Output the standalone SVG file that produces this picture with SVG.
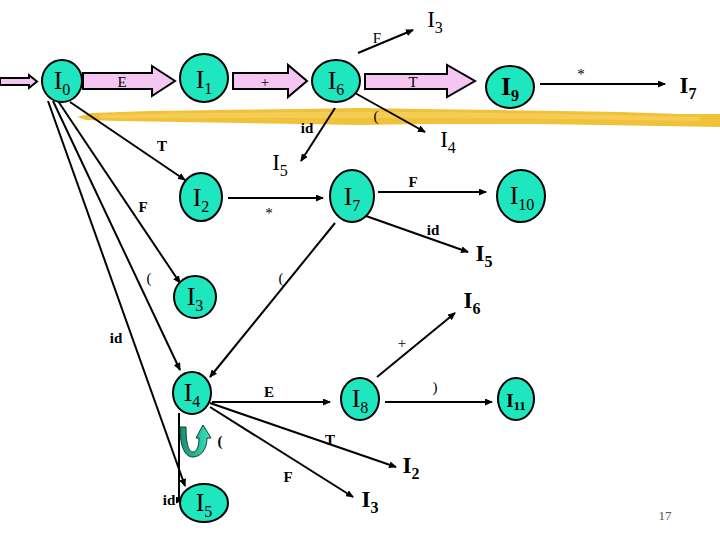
<svg xmlns="http://www.w3.org/2000/svg" width="720" height="540" viewBox="0 0 720 540">
<style>
.node{fill:#1EE6BE;stroke:#000;stroke-width:2}
.edge{stroke:#000;stroke-width:2;fill:none;marker-end:url(#ah)}
.fat{fill:#F5C6F2;stroke:#000;stroke-width:2}
text{font-family:'Liberation Serif','DejaVu Serif',serif}
.nl{font-size:26px;text-anchor:middle;fill:#000}
.tl{font-size:23px;text-anchor:middle;fill:#000}
.el{font-size:15px;text-anchor:middle;fill:#000}
.b{font-weight:bold}
.sub{font-size:16px}
</style>
<defs>
<marker id="ah" markerUnits="userSpaceOnUse" markerWidth="8" markerHeight="7" viewBox="0 0 8 7" refX="7" refY="3.5" orient="auto">
<path d="M0,0 L8,3.5 L0,7 Z" fill="#000"/>
</marker>
<linearGradient id="loopg" x1="0" y1="0" x2="1" y2="0">
<stop offset="0" stop-color="#1C8C72"/>
<stop offset="0.5" stop-color="#23B894"/>
<stop offset="1" stop-color="#3BE8C0"/>
</linearGradient>
</defs>
<rect width="720" height="540" fill="#fff"/>
<g id="brush">
<path d="M77,117 L92,113 L150,111 L220,110 L300,109 L360,108 L420,109 L500,110 L560,111 L620,112 L680,114 L720,114 L720,127 L660,126 L600,125 L540,124 L480,124 L420,124 L360,125 L300,124 L240,123 L180,122 L120,121 L86,120 Z" fill="#F0C23A"/>
<path d="M100,115 L200,113 L320,112 L440,112 L560,114 L700,117 L700,121 L560,119 L440,118 L320,118 L200,118 L100,118 Z" fill="#F6D060" opacity="0.7"/>
</g>
<g id="connectors" font-family="'Liberation Serif','DejaVu Serif',serif">
<path class="fat" d="M0,78 L29,78 L29,75 L37,81.5 L29,88 L29,85 L0,85 Z"/>
<path class="fat" d="M83,73 L152,73 L152,66 L175,81 L152,96 L152,89 L83,89 Z"/>
<path class="fat" d="M233,73 L288,73 L288,65 L307,81 L288,97 L288,89 L233,89 Z"/>
<path class="fat" d="M365,74 L447,74 L447,65 L475,81 L447,97 L447,89 L365,89 Z"/>
<line class="edge" x1="358" y1="53" x2="413" y2="30"/>
<line class="edge" x1="355" y1="93" x2="425" y2="132"/>
<line class="edge" x1="335" y1="108" x2="301" y2="161"/>
<line class="edge" x1="540" y1="84" x2="665" y2="84"/>
<line class="edge" x1="70" y1="102" x2="185" y2="180"/>
<line class="edge" x1="58" y1="101" x2="180" y2="283"/>
<line class="edge" x1="53" y1="101" x2="180" y2="370"/>
<line class="edge" x1="48" y1="101" x2="185" y2="486"/>
<line class="edge" x1="228" y1="198" x2="323" y2="198"/>
<line class="edge" x1="378" y1="192" x2="486" y2="192"/>
<line class="edge" x1="366" y1="216" x2="468" y2="252"/>
<line class="edge" x1="335" y1="223" x2="210" y2="377"/>
<line class="edge" x1="212" y1="402" x2="330" y2="402"/>
<line class="edge" x1="377" y1="377" x2="455" y2="313"/>
<line class="edge" x1="385" y1="402" x2="492" y2="402"/>
<line class="edge" x1="210" y1="403" x2="396" y2="467"/>
<line class="edge" x1="210" y1="407" x2="353" y2="497"/>
<polyline class="edge" points="179,413 179,500 183,500"/>
<path d="M180,427 L186,427 C186,445 189,452 193,452 C197,452 199,446 199,438 L196,438 L203,425 L211,438 L207,438 C207,450 200,457 193,457 C185,457 180,447 180,427 Z" fill="url(#loopg)" stroke="#0B3D30" stroke-width="1"/>
<text class="el" x="377" y="43">F</text>
<text class="el" x="376" y="121">(</text>
<text class="el b" x="307" y="133">id</text>
<text class="el" x="581" y="79">*</text>
<text class="el" x="122" y="87">E</text>
<text class="el" x="265" y="87">+</text>
<text class="el" x="413" y="87">T</text>
<text class="el b" x="162" y="151">T</text>
<text class="el b" x="143" y="212">F</text>
<text class="el" x="149" y="283">(</text>
<text class="el b" x="116" y="343">id</text>
<text class="el" x="269" y="218">*</text>
<text class="el b" x="413" y="187">F</text>
<text class="el b" x="433" y="235">id</text>
<text class="el" x="281" y="283">(</text>
<text class="el b" x="269" y="397">E</text>
<text class="el" x="402" y="348">+</text>
<text class="el" x="435" y="392">)</text>
<text class="el b" x="330" y="445">T</text>
<text class="el b" x="288" y="482">F</text>
<text class="el b" x="220" y="446">(</text>
<text class="el b" x="169" y="505">id</text>
</g>
<g id="I0"><ellipse class="node" cx="62" cy="81" rx="20" ry="21"/><text class="nl" x="62" y="89">I<tspan class="sub" dy="6">0</tspan></text></g>
<g id="I1"><ellipse class="node" cx="204" cy="78" rx="24" ry="24"/><text class="nl" x="204" y="88">I<tspan class="sub" dy="6">1</tspan></text></g>
<g id="I6"><ellipse class="node" cx="336" cy="81" rx="24" ry="21"/><text class="nl" x="336" y="89">I<tspan class="sub" dy="6">6</tspan></text></g>
<g id="I9"><ellipse class="node" cx="510" cy="87" rx="24" ry="21"/><text class="nl b" x="510" y="95">I<tspan class="sub" dy="6">9</tspan></text></g>
<g id="I2"><ellipse class="node" cx="201" cy="197" rx="21" ry="24"/><text class="nl" x="201" y="206">I<tspan class="sub" dy="6">2</tspan></text></g>
<g id="I7"><ellipse class="node" cx="352" cy="196" rx="22" ry="26"/><text class="nl" x="352" y="205">I<tspan class="sub" dy="6">7</tspan></text></g>
<g id="I10"><ellipse class="node" cx="521" cy="196" rx="24" ry="26"/><text class="nl" x="522" y="204">I<tspan class="sub" dy="6">10</tspan></text></g>
<g id="I3"><ellipse class="node" cx="195" cy="297" rx="21" ry="21"/><text class="nl" x="195" y="305">I<tspan class="sub" dy="6">3</tspan></text></g>
<g id="I4"><ellipse class="node" cx="192" cy="393" rx="19" ry="21"/><text class="nl" x="192" y="401">I<tspan class="sub" dy="6">4</tspan></text></g>
<g id="I8"><ellipse class="node" cx="360" cy="399" rx="19" ry="21"/><text class="nl" x="360" y="407">I<tspan class="sub" dy="6">8</tspan></text></g>
<g id="I11"><ellipse class="node" cx="516" cy="399" rx="18" ry="21"/><text class="nl b" x="516" y="407" style="font-size:19px">I<tspan style="font-size:13px" dy="3">11</tspan></text></g>
<g id="I5"><ellipse class="node" cx="204" cy="503" rx="24" ry="19"/><text class="nl" x="204" y="511">I<tspan class="sub" dy="6">5</tspan></text></g>
<g id="t_I3a"><text class="tl" x="435" y="27">I<tspan class="sub" dy="6">3</tspan></text></g>
<g id="t_I7"><text class="tl b" x="688" y="93">I<tspan class="sub" dy="6">7</tspan></text></g>
<g id="t_I4"><text class="tl" x="448" y="147">I<tspan class="sub" dy="6">4</tspan></text></g>
<g id="t_I5a"><text class="tl" x="280" y="170">I<tspan class="sub" dy="6">5</tspan></text></g>
<g id="t_I5b"><text class="tl b" x="484" y="261">I<tspan class="sub" dy="6">5</tspan></text></g>
<g id="t_I6"><text class="tl b" x="472" y="308">I<tspan class="sub" dy="6">6</tspan></text></g>
<g id="t_I2"><text class="tl b" x="411" y="473">I<tspan class="sub" dy="6">2</tspan></text></g>
<g id="t_I3b"><text class="tl b" x="370" y="507">I<tspan class="sub" dy="6">3</tspan></text></g>
<text x="665" y="520" font-size="13" fill="#555" text-anchor="middle">17</text>
</svg>
